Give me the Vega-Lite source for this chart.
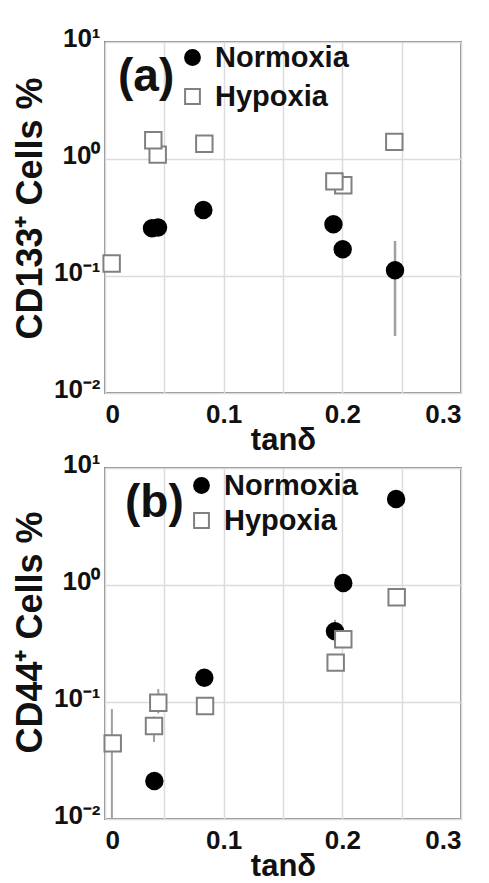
{
  "$schema": "https://vega.github.io/schema/vega-lite/v6.json",
  "padding": {"left": 11, "top": 24, "right": 5, "bottom": 5},
  "spacing": -6,
  "datasets": {
    "a": [
      {"tan": 0.0396, "pct": 0.256, "condition": "Normoxia"},
      {"tan": 0.0447, "pct": 0.26, "condition": "Normoxia"},
      {"tan": 0.0829, "pct": 0.366, "condition": "Normoxia"},
      {"tan": 0.1925, "pct": 0.277, "condition": "Normoxia"},
      {"tan": 0.2003, "pct": 0.169, "condition": "Normoxia"},
      {"tan": 0.2444, "pct": 0.112, "condition": "Normoxia"},
      {"tan": 0.0056, "pct": 0.128, "condition": "Hypoxia"},
      {"tan": 0.0444, "pct": 1.09, "condition": "Hypoxia"},
      {"tan": 0.0407, "pct": 1.445, "condition": "Hypoxia"},
      {"tan": 0.0837, "pct": 1.35, "condition": "Hypoxia"},
      {"tan": 0.2008, "pct": 0.596, "condition": "Hypoxia"},
      {"tan": 0.1933, "pct": 0.644, "condition": "Hypoxia"},
      {"tan": 0.2438, "pct": 1.40, "condition": "Hypoxia"}
    ],
    "errA": [
      {"tan": 0.2444, "lo": 0.0307, "hi": 0.199, "condition": "Normoxia"},
      {"tan": 0.0407, "lo": 1.3, "hi": 1.62, "condition": "Hypoxia"}
    ],
    "b": [
      {"tan": 0.0416, "pct": 0.0211, "condition": "Normoxia"},
      {"tan": 0.0837, "pct": 0.161, "condition": "Normoxia"},
      {"tan": 0.1938, "pct": 0.402, "condition": "Normoxia"},
      {"tan": 0.2008, "pct": 1.04, "condition": "Normoxia"},
      {"tan": 0.2453, "pct": 5.43, "condition": "Normoxia"},
      {"tan": 0.0065, "pct": 0.0443, "condition": "Hypoxia"},
      {"tan": 0.0413, "pct": 0.0624, "condition": "Hypoxia"},
      {"tan": 0.0449, "pct": 0.0985, "condition": "Hypoxia"},
      {"tan": 0.0843, "pct": 0.0924, "condition": "Hypoxia"},
      {"tan": 0.1944, "pct": 0.217, "condition": "Hypoxia"},
      {"tan": 0.2008, "pct": 0.344, "condition": "Hypoxia"},
      {"tan": 0.2458, "pct": 0.785, "condition": "Hypoxia"}
    ],
    "errB": [
      {"tan": 0.0058, "lo": 0.01, "hi": 0.087, "condition": "Hypoxia"},
      {"tan": 0.0449, "lo": 0.08, "hi": 0.129, "condition": "Hypoxia"},
      {"tan": 0.0413, "lo": 0.0455, "hi": 0.075, "condition": "Hypoxia"},
      {"tan": 0.1938, "lo": 0.33, "hi": 0.505, "condition": "Normoxia"}
    ]
  },
  "config": {
    "font": "Liberation Sans",
    "view": {"stroke": "#8c8c8c", "strokeWidth": 2},
    "axis": {
      "labelFont": "Liberation Sans", "labelFontWeight": "bold", "labelFontSize": 26, "labelColor": "#111",
      "titleFont": "Liberation Sans", "titleFontWeight": "bold", "titleFontSize": 36, "titleColor": "#111",
      "gridColor": "#dcdcdc", "gridWidth": 1.5, "domain": false, "ticks": false
    },
    "legend": {
      "labelFont": "Liberation Sans", "labelFontWeight": "bold", "labelFontSize": 29, "labelColor": "#111",
      "symbolStrokeWidth": 2, "symbolSize": 220,
      "titleFont": "Liberation Sans", "titleFontWeight": "bold", "titleFontSize": 46, "titleColor": "#111",
      "titleOrient": "left", "titleBaseline": "middle", "titleAnchor": "middle", "titlePadding": 3
    }
  },
  "vconcat": [
    {
      "width": 356, "height": 351,
      "layer": [
        {
          "data": {"name": "errA"},
          "mark": {"type": "rule", "color": "#a0a0a0", "strokeWidth": 2.5},
          "encoding": {
            "x": {"field": "tan", "type": "quantitative", "scale": {"domain": [0, 0.3], "nice": false},
              "axis": {"title": "tanδ", "titleFontSize": 31, "titlePadding": -2, "labelPadding": 8, "values": [0, 0.05, 0.1, 0.15, 0.2, 0.25, 0.3],
                "labelExpr": "datum.value == 0 ? '0' : (round(datum.value * 100) % 10 == 0 ? format(datum.value, '.1f') : '')"}},
            "y": {"field": "lo", "type": "quantitative", "scale": {"type": "log", "domain": [0.01, 10], "nice": false},
              "axis": {"title": "CD133⁺ Cells %", "titleY": 166, "values": [0.01, 0.1, 1, 10], "labelOffset": -4, "labelPadding": 5, "titlePadding": 4,
                "labelExpr": "datum.value == 10 ? '10¹' : datum.value == 1 ? '10⁰' : datum.value == 0.1 ? '10⁻¹' : '10⁻²'"}},
            "y2": {"field": "hi"}
          }
        },
        {
          "data": {"name": "a"},
          "mark": {"type": "point", "strokeWidth": 2, "opacity": 1, "size": 270},
          "encoding": {
            "x": {"field": "tan", "type": "quantitative"},
            "y": {"field": "pct", "type": "quantitative"},
            "shape": {"field": "condition", "type": "nominal", "scale": {"domain": ["Normoxia", "Hypoxia"], "range": ["circle", "square"]},
              "legend": {"title": "(a)", "orient": "none", "legendX": 13, "legendY": 1, "rowPadding": 9, "labelOffset": 8}},
            "fill": {"field": "condition", "type": "nominal", "scale": {"domain": ["Normoxia", "Hypoxia"], "range": ["#000000", "#ffffff"]}},
            "stroke": {"field": "condition", "type": "nominal", "scale": {"domain": ["Normoxia", "Hypoxia"], "range": ["#000000", "#808080"]}}
          }
        }
      ]
    },
    {
      "width": 356, "height": 351,
      "layer": [
        {
          "data": {"name": "errB"},
          "mark": {"type": "rule", "color": "#a0a0a0", "strokeWidth": 2},
          "encoding": {
            "x": {"field": "tan", "type": "quantitative", "scale": {"domain": [0, 0.3], "nice": false},
              "axis": {"title": "tanδ", "titleFontSize": 31, "titlePadding": -2, "labelPadding": 8, "values": [0, 0.05, 0.1, 0.15, 0.2, 0.25, 0.3],
                "labelExpr": "datum.value == 0 ? '0' : (round(datum.value * 100) % 10 == 0 ? format(datum.value, '.1f') : '')"}},
            "y": {"field": "lo", "type": "quantitative", "scale": {"type": "log", "domain": [0.01, 10], "nice": false},
              "axis": {"title": "CD44⁺ Cells %", "titleY": 164, "values": [0.01, 0.1, 1, 10], "labelOffset": -4, "labelPadding": 5, "titlePadding": 4,
                "labelExpr": "datum.value == 10 ? '10¹' : datum.value == 1 ? '10⁰' : datum.value == 0.1 ? '10⁻¹' : '10⁻²'"}},
            "y2": {"field": "hi"}
          }
        },
        {
          "data": {"name": "b"},
          "mark": {"type": "point", "strokeWidth": 2, "opacity": 1, "size": 270},
          "encoding": {
            "x": {"field": "tan", "type": "quantitative"},
            "y": {"field": "pct", "type": "quantitative"},
            "shape": {"field": "condition", "type": "nominal", "scale": {"domain": ["Normoxia", "Hypoxia"], "range": ["circle", "square"]},
              "legend": {"title": "(b)", "orient": "none", "legendX": 20, "legendY": 3, "rowPadding": 5, "labelOffset": 8}},
            "fill": {"field": "condition", "type": "nominal", "scale": {"domain": ["Normoxia", "Hypoxia"], "range": ["#000000", "#ffffff"]}},
            "stroke": {"field": "condition", "type": "nominal", "scale": {"domain": ["Normoxia", "Hypoxia"], "range": ["#000000", "#808080"]}}
          }
        }
      ]
    }
  ],
  "resolve": {"scale": {"shape": "independent", "fill": "independent", "stroke": "independent"}, "legend": {"shape": "independent", "fill": "independent", "stroke": "independent"}}
}
